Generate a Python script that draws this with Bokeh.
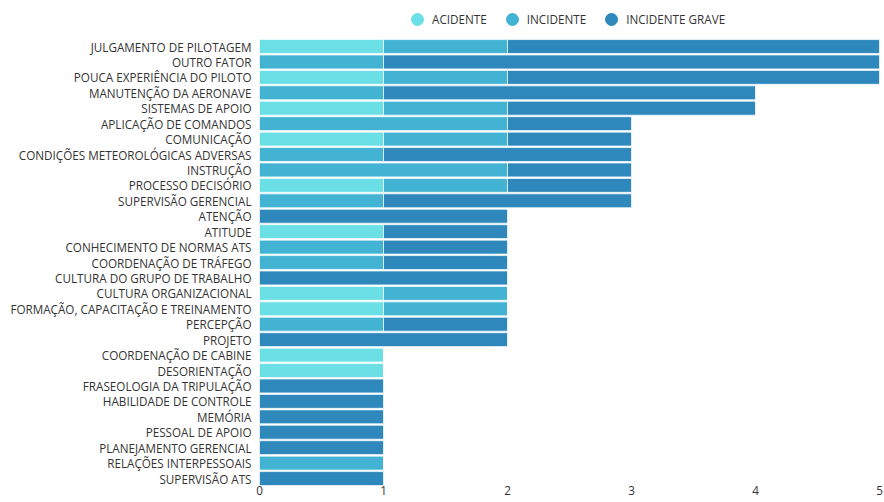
from bokeh.plotting import figure
from bokeh.models import ColumnDataSource, Legend, LegendItem, FixedTicker, Range1d
from bokeh.embed import file_html
from bokeh.resources import INLINE

categories = [
    "JULGAMENTO DE PILOTAGEM", "OUTRO FATOR", "POUCA EXPERIÊNCIA DO PILOTO",
    "MANUTENÇÃO DA AERONAVE", "SISTEMAS DE APOIO", "APLICAÇÃO DE COMANDOS",
    "COMUNICAÇÃO", "CONDIÇÕES METEOROLÓGICAS ADVERSAS", "INSTRUÇÃO",
    "PROCESSO DECISÓRIO", "SUPERVISÃO GERENCIAL", "ATENÇÃO", "ATITUDE",
    "CONHECIMENTO DE NORMAS ATS", "COORDENAÇÃO DE TRÁFEGO",
    "CULTURA DO GRUPO DE TRABALHO", "CULTURA ORGANIZACIONAL",
    "FORMAÇÃO, CAPACITAÇÃO E TREINAMENTO", "PERCEPÇÃO", "PROJETO",
    "COORDENAÇÃO DE CABINE", "DESORIENTAÇÃO", "FRASEOLOGIA DA TRIPULAÇÃO",
    "HABILIDADE DE CONTROLE", "MEMÓRIA", "PESSOAL DE APOIO",
    "PLANEJAMENTO GERENCIAL", "RELAÇÕES INTERPESSOAIS", "SUPERVISÃO ATS",
]
acidente = [1, 0, 1, 0, 1, 0, 1, 0, 0, 1, 0, 0, 1, 0, 0, 0, 1, 1, 0, 0, 1, 1, 0, 0, 0, 0, 0, 0, 0]
incidente = [1, 1, 1, 1, 1, 2, 1, 1, 2, 1, 1, 0, 0, 1, 1, 0, 1, 1, 1, 0, 0, 0, 0, 0, 0, 0, 0, 1, 0]
incidente_grave = [3, 4, 3, 3, 2, 1, 1, 2, 1, 1, 2, 2, 1, 1, 1, 2, 0, 0, 1, 2, 0, 0, 1, 1, 1, 1, 1, 0, 1]
series_names = ["ACIDENTE", "INCIDENTE", "INCIDENTE GRAVE"]
colors = ["#6ae0e6", "#42b3d2", "#2e88bb"]
x_ticks = [0, 1, 2, 3, 4, 5]

FONT = "Open Sans"
TXT = "#333333"
FS = "11.7px"

n = len(categories)
# row position: first category at the top
ypos = [n - 1 - i for i in range(n)]

source = ColumnDataSource(dict(
    y=ypos, cat=categories, acidente=acidente, incidente=incidente, grave=incidente_grave))

p = figure(
    y_range=Range1d(-0.451, 30.463), x_range=Range1d(0, 5),
    width=884, height=502, output_backend="svg", toolbar_location=None,
    min_border_left=259, min_border_right=5, min_border_top=8, min_border_bottom=17,
)
p.outline_line_color = None
p.xgrid.grid_line_color = None
p.ygrid.grid_line_color = None

renderers = p.hbar_stack(
    ["acidente", "incidente", "grave"], y="y", height=0.9, source=source,
    color=colors, line_color="white", line_alpha=0.7, line_width=1,
)
for r, c in zip(renderers, colors):
    r.glyph.fill_color = c

# legend markers (no visible data points; only used for the legend swatches)
nan = float("nan")
items = []
for name, c in zip(series_names, colors):
    leg_src = ColumnDataSource(dict(x=[nan], y=[nan]))
    rr = p.scatter(x="x", y="y", source=leg_src, marker="circle", size=12,
                   fill_color=c, line_color=c)
    items.append(LegendItem(label=name, renderers=[rr], index=0))

legend = Legend(items=items, orientation="horizontal", location=(143, 451),
                label_text_font=FONT, label_text_font_size=FS,
                label_text_color=TXT, border_line_color=None,
                background_fill_alpha=0, glyph_width=30, glyph_height=30,
                label_standoff=0, spacing=10, padding=2, margin=0)
p.add_layout(legend, "center")

p.xaxis.ticker = FixedTicker(ticks=x_ticks)
p.xaxis.axis_line_color = None
p.xaxis.major_tick_line_color = None
p.xaxis.minor_tick_line_color = None
p.xaxis.major_tick_out = 0
p.xaxis.major_label_standoff = 0
p.xaxis.major_label_text_font = FONT
p.xaxis.major_label_text_font_size = FS
p.xaxis.major_label_text_color = TXT

p.yaxis.ticker = FixedTicker(ticks=ypos)
p.yaxis.major_label_overrides = {yy: c for yy, c in zip(ypos, categories)}
p.yaxis.axis_line_color = None
p.yaxis.major_tick_line_color = None
p.yaxis.minor_tick_line_color = None
p.yaxis.major_tick_out = 0
p.yaxis.major_label_standoff = 8
p.yaxis.major_label_text_font = FONT
p.yaxis.major_label_text_font_size = FS
p.yaxis.major_label_text_color = TXT

open("out.html", "w").write(file_html(p, INLINE))
